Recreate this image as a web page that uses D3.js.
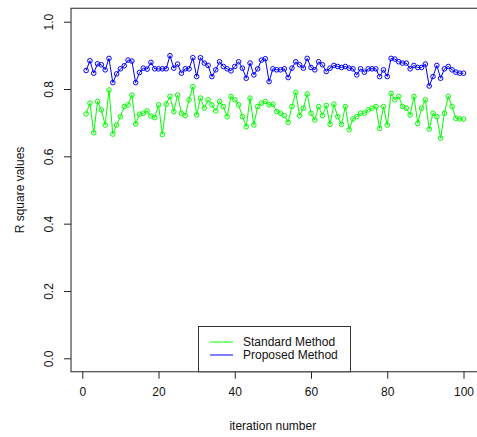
<!DOCTYPE html>
<html>
<head>
<meta charset="utf-8">
<script src="https://cdnjs.cloudflare.com/ajax/libs/d3/7.8.5/d3.min.js"></script>
<style>
  body { margin: 0; background: #fff; }
  svg { display: block; font-family: "Liberation Sans", Arial, sans-serif; }
</style>
</head>
<body>
<svg id="chart"></svg>
<script>
// values, iteration 1..100
let standard = [0.726, 0.758, 0.670, 0.763, 0.738, 0.693, 0.797, 0.666, 0.693, 0.718,
  0.748, 0.753, 0.782, 0.696, 0.725, 0.728, 0.735, 0.720, 0.715, 0.753,
  0.665, 0.755, 0.778, 0.733, 0.782, 0.728, 0.721, 0.768, 0.807, 0.723,
  0.773, 0.743, 0.768, 0.753, 0.735, 0.763, 0.748, 0.718, 0.778, 0.768,
  0.753, 0.718, 0.688, 0.773, 0.693, 0.748, 0.758, 0.763, 0.753, 0.755,
  0.733, 0.728, 0.721, 0.701, 0.748, 0.790, 0.721, 0.743, 0.785, 0.728,
  0.708, 0.748, 0.721, 0.751, 0.695, 0.755, 0.718, 0.695, 0.748, 0.679,
  0.711, 0.718, 0.728, 0.728, 0.738, 0.743, 0.748, 0.683, 0.748, 0.693,
  0.787, 0.768, 0.778, 0.748, 0.743, 0.723, 0.778, 0.698, 0.743, 0.768,
  0.681, 0.728, 0.718, 0.654, 0.728, 0.778, 0.748, 0.713, 0.711, 0.711];

let proposed = [0.855, 0.884, 0.847, 0.875, 0.872, 0.857, 0.891, 0.819, 0.845, 0.860,
  0.869, 0.886, 0.883, 0.819, 0.849, 0.862, 0.859, 0.879, 0.860, 0.860,
  0.860, 0.860, 0.899, 0.862, 0.874, 0.847, 0.860, 0.860, 0.893, 0.837,
  0.893, 0.877, 0.870, 0.837, 0.857, 0.881, 0.867, 0.860, 0.854, 0.867,
  0.881, 0.862, 0.832, 0.877, 0.842, 0.860, 0.886, 0.890, 0.822, 0.860,
  0.857, 0.857, 0.860, 0.834, 0.862, 0.881, 0.872, 0.862, 0.891, 0.864,
  0.857, 0.881, 0.872, 0.852, 0.862, 0.870, 0.867, 0.864, 0.867, 0.862,
  0.860, 0.842, 0.860, 0.850, 0.860, 0.860, 0.860, 0.837, 0.857, 0.837,
  0.891, 0.889, 0.881, 0.877, 0.877, 0.860, 0.870, 0.864, 0.864, 0.874,
  0.809, 0.837, 0.870, 0.832, 0.860, 0.867, 0.857, 0.850, 0.847, 0.847];

let xTicks = [0, 20, 40, 60, 80, 100];
let yTicks = [0, 0.2, 0.4, 0.6, 0.8, 1.0];
let legendNames = ["Standard Method", "Proposed Method"];
let colors = ["#00ff00", "#0000ff"];

let w = 477;
let h = 437;

let svg = d3.select("#chart")
    .attr("width", w)
    .attr("height", h);

let x = d3.scaleLinear().domain([0, 100]).range([82.3, 463.5]);
let y = d3.scaleLinear().domain([0, 1]).range([358.3, 21.7]);

// plot box (R extends the range by 4%)
let x0 = x(1 - 99 * 0.04), x1 = x(100 + 99 * 0.04);
let yb = y(-0.04), yt = y(1.04);
svg.append("rect")
    .attr("x", x0)
    .attr("y", yt)
    .attr("width", x1 - x0)
    .attr("height", yb - yt)
    .attr("fill", "none")
    .attr("stroke", "#222")
    .attr("stroke-width", 1);

// axes
let xAxis = d3.axisBottom(x)
    .tickValues(xTicks)
    .tickSize(7)
    .tickPadding(9)
    .tickFormat(d3.format("d"));
let gx = svg.append("g")
    .attr("transform", "translate(0," + yb + ")")
    .call(xAxis);
gx.select(".domain").remove();

let yAxis = d3.axisLeft(y)
    .tickValues(yTicks)
    .tickSize(7)
    .tickFormat(d3.format(".1f"));
let gy = svg.append("g")
    .attr("transform", "translate(" + x0 + ",0)")
    .call(yAxis);
gy.select(".domain").remove();
// R style: labels turned parallel to the axis
gy.selectAll("text")
    .attr("x", -18)
    .attr("y", 0)
    .attr("dy", "0")
    .attr("transform", "rotate(-90,-18,0)")
    .attr("text-anchor", "middle");

svg.selectAll(".tick line").attr("stroke", "#222");
svg.selectAll(".tick text")
    .attr("font-size", "12px")
    .attr("fill", "#111")
    .attr("font-family", "'Liberation Sans', Arial, sans-serif");

// axis titles
svg.append("text")
    .text("iteration number")
    .attr("x", (x0 + x1) / 2 - 2)
    .attr("y", 430)
    .attr("text-anchor", "middle")
    .attr("font-size", "12px")
    .attr("fill", "#111");

svg.append("text")
    .text("R square values")
    .attr("transform", "translate(23.5," + ((yt + yb) / 2) + ") rotate(-90)")
    .attr("text-anchor", "middle")
    .attr("font-size", "12px")
    .attr("fill", "#111");

// series
let seriesList = [standard, proposed];
let line = d3.line()
    .x(function(d, i) { return x(i + 1); })
    .y(function(d) { return y(d); });

seriesList.forEach(function(series, k) {
    svg.append("path")
        .datum(series)
        .attr("d", line)
        .attr("fill", "none")
        .attr("stroke", colors[k])
        .attr("stroke-width", 1);

    svg.append("g").selectAll("circle")
        .data(series)
        .enter()
        .append("circle")
        .attr("cx", function(d, i) { return x(i + 1); })
        .attr("cy", function(d) { return y(d); })
        .attr("r", 2.3)
        .attr("fill", "none")
        .attr("stroke", colors[k])
        .attr("stroke-width", 1);
});

// legend at bottom
let lg = svg.append("g");
lg.append("rect")
    .attr("x", 198.5)
    .attr("y", 326.5)
    .attr("width", 152)
    .attr("height", yb - 326.5)
    .attr("fill", "#fff")
    .attr("stroke", "#333")
    .attr("stroke-width", 1);

legendNames.forEach(function(name, k) {
    let ly = 342 + k * 13;
    lg.append("line")
        .attr("x1", 210)
        .attr("x2", 233)
        .attr("y1", ly)
        .attr("y2", ly)
        .attr("stroke", colors[k])
        .attr("stroke-width", 1);
    lg.append("text")
        .text(name)
        .attr("x", 243)
        .attr("y", ly + 4)
        .attr("font-size", "12px")
        .attr("fill", "#111");
});
</script>
</body>
</html>
